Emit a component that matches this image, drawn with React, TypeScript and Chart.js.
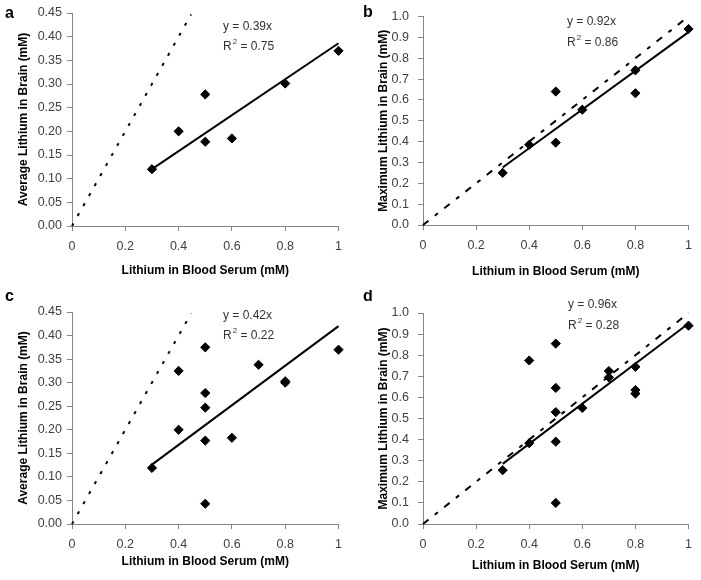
import React, { useEffect, useRef } from 'react';
import { Chart, registerables } from 'chart.js';
Chart.register(...registerables);

const FONT = "'Liberation Sans', Arial, Helvetica, sans-serif";

// ---- tick labels ----
const serumTicks = [0, 0.2, 0.4, 0.6, 0.8, 1];
const avgTicks = [0, 0.05, 0.1, 0.15, 0.2, 0.25, 0.3, 0.35, 0.4, 0.45];
const maxTicks = [0, 0.1, 0.2, 0.3, 0.4, 0.5, 0.6, 0.7, 0.8, 0.9, 1.0];

// ---- panel a: average brain Li vs serum Li ----
const serumA = [0.3, 0.4, 0.5, 0.5, 0.6, 0.8, 1.0];
const brainA = [0.12, 0.2, 0.278, 0.178, 0.185, 0.301, 0.37];
// ---- panel b: maximum brain Li vs serum Li ----
const serumB = [0.3, 0.4, 0.5, 0.5, 0.6, 0.8, 0.8, 1.0];
const brainB = [0.25, 0.385, 0.64, 0.395, 0.553, 0.742, 0.632, 0.94];
// ---- panel c ----
const serumC = [0.3, 0.4, 0.4, 0.5, 0.5, 0.5, 0.5, 0.5, 0.6, 0.7, 0.8, 0.8, 1.0];
const brainC = [0.119, 0.325, 0.2, 0.375, 0.278, 0.247, 0.177, 0.043, 0.183, 0.338, 0.3, 0.303, 0.37];
// ---- panel d ----
const serumD = [0.3, 0.4, 0.4, 0.5, 0.5, 0.5, 0.5, 0.5, 0.6, 0.7, 0.7, 0.8, 0.8, 0.8, 1.0];
const brainD = [0.255, 0.775, 0.383, 0.855, 0.645, 0.53, 0.39, 0.1, 0.55, 0.725, 0.695, 0.745, 0.635, 0.618, 0.94];

// ---- trend lines (endpoints) ----
const trendX = [0.3, 1.0];
const trendA = [0.12, 0.386];
const trendB = [0.276, 0.925];
const trendC = [0.126, 0.42];
const trendD = [0.285, 0.95];

// ---- unity (y = x) reference lines ----
const unityAvg = [0, 0.447];
const unityMax = [0, 1.0];

// ---- equation labels ----
const eqA = 'y = 0.39x'; const r2A = '0.75';
const eqB = 'y = 0.92x'; const r2B = '0.86';
const eqC = 'y = 0.42x'; const r2C = '0.22';
const eqD = 'y = 0.96x'; const r2D = '0.28';

const xTitle = 'Lithium in Blood Serum (mM)';
const yTitleAvg = 'Average Lithium in Brain (mM)';
const yTitleMax = 'Maximum Lithium in Brain (mM)';

type Spec = {
  letter: string; left: number; top: number;
  xs: number[]; ys: number[]; trend: number[]; unity: number[]; dash: number[];
  yTicks: number[]; yMax: number; yDec: number; yTitle: string; eq: string; r2: string;
  padTop: number; padRight: number; yAxisW: number; yTitlePad: number; yTickPad: number;
  xAxisH: number; xTitlePad: number; letterX: number; letterY: number; eqX: number; eqY: number; r2Y: number;
};

const dotted = [3, 8.5];
const dashDot = [7, 8, 4, 8];

const specs: Spec[] = [
  { letter: 'a', left: 0, top: 0, xs: serumA, ys: brainA, trend: trendA, unity: unityAvg, dash: dotted,
    yTicks: avgTicks, yMax: 0.45, yDec: 2, yTitle: yTitleAvg, eq: eqA, r2: r2A,
    padTop: 13, padRight: 11, yAxisW: 72, yTitlePad: 16, yTickPad: 5, xAxisH: 64, xTitlePad: 12,
    letterX: 5, letterY: 18, eqX: 223, eqY: 27, r2Y: 47 },
  { letter: 'b', left: 350, top: 0, xs: serumB, ys: brainB, trend: trendB, unity: unityMax, dash: dashDot,
    yTicks: maxTicks, yMax: 1.0, yDec: 1, yTitle: yTitleMax, eq: eqB, r2: r2B,
    padTop: 14, padRight: 11, yAxisW: 73, yTitlePad: 26, yTickPad: 9, xAxisH: 65, xTitlePad: 11,
    letterX: 13, letterY: 17, eqX: 217, eqY: 22, r2Y: 43 },
  { letter: 'c', left: 0, top: 290, xs: serumC, ys: brainC, trend: trendC, unity: unityAvg, dash: dotted,
    yTicks: avgTicks, yMax: 0.45, yDec: 2, yTitle: yTitleAvg, eq: eqC, r2: r2C,
    padTop: 22, padRight: 11, yAxisW: 72, yTitlePad: 16, yTickPad: 5, xAxisH: 56, xTitlePad: 11,
    letterX: 5, letterY: 11, eqX: 223, eqY: 26, r2Y: 46 },
  { letter: 'd', left: 350, top: 290, xs: serumD, ys: brainD, trend: trendD, unity: unityMax, dash: dashDot,
    yTicks: maxTicks, yMax: 1.0, yDec: 1, yTitle: yTitleMax, eq: eqD, r2: r2D,
    padTop: 23, padRight: 10, yAxisW: 73, yTitlePad: 26, yTickPad: 9, xAxisH: 56, xTitlePad: 7,
    letterX: 13, letterY: 11, eqX: 218, eqY: 15, r2Y: 36 },
];

const AXIS = '#868686';
const TICK = '#404040';
const TICK_SIZE = 12.5;

function makeChart(canvas: HTMLCanvasElement, s: Spec) {
  const textPlugin = {
    id: 'panelText',
    afterDraw(chart: any) {
      const ctx = chart.ctx as CanvasRenderingContext2D;
      ctx.save();
      ctx.fillStyle = '#000';
      ctx.font = `bold 16px ${FONT}`;
      ctx.textBaseline = 'alphabetic';
      ctx.textAlign = 'left';
      ctx.fillText(s.letter, s.letterX, s.letterY);
      ctx.fillStyle = '#333';
      ctx.font = `12px ${FONT}`;
      ctx.textBaseline = 'middle';
      ctx.fillText(s.eq, s.eqX, s.eqY);
      ctx.fillText('R', s.eqX, s.r2Y);
      let w = ctx.measureText('R').width + 1;
      ctx.font = `8px ${FONT}`;
      ctx.fillText('2', s.eqX + w, s.r2Y - 5);
      w += ctx.measureText('2').width;
      ctx.font = `12px ${FONT}`;
      ctx.fillText(' = ' + s.r2, s.eqX + w, s.r2Y);
      ctx.restore();
    },
  };

  const pts = s.xs.map((x, i) => ({ x, y: s.ys[i] }));
  const trendPts = trendX.map((x, i) => ({ x, y: s.trend[i] }));
  const unityPts = s.unity.map((v) => ({ x: v, y: v }));

  return new Chart(canvas, {
    type: 'scatter',
    data: {
      datasets: [
        { data: unityPts, showLine: true, borderColor: '#000', borderWidth: 2, borderDash: s.dash,
          borderCapStyle: 'butt', pointRadius: 0, pointHoverRadius: 0, clip: false } as any,
        { data: trendPts, showLine: true, borderColor: '#000', borderWidth: 2,
          pointRadius: 0, pointHoverRadius: 0, clip: false } as any,
        { data: pts, showLine: false, pointStyle: 'rectRot', pointRadius: 4.6, pointHoverRadius: 4.6,
          pointBackgroundColor: '#000', pointBorderColor: '#000', pointBorderWidth: 1, clip: false } as any,
      ],
    },
    options: {
      responsive: false,
      animation: false,
      events: [],
      layout: { padding: { left: 0, top: s.padTop, right: s.padRight, bottom: 0 } },
      plugins: { legend: { display: false }, tooltip: { enabled: false } },
      scales: {
        x: {
          type: 'linear', min: 0, max: 1,
          afterBuildTicks: (sc: any) => { sc.ticks = serumTicks.map((v) => ({ value: v })); },
          afterFit: (sc: any) => { sc.height = s.xAxisH; },
          ticks: { callback: (v: any) => String(v), color: TICK, font: { family: FONT, size: TICK_SIZE },
            padding: 8, maxRotation: 0, autoSkip: false },
          grid: { display: true, drawOnChartArea: false, drawTicks: true, tickLength: 5, color: AXIS },
          border: { display: true, color: AXIS, width: 1 },
          title: { display: true, text: xTitle, color: '#000', font: { family: FONT, size: 12, weight: 'bold' },
            padding: { top: 4, bottom: s.xTitlePad } },
        },
        y: {
          type: 'linear', min: 0, max: s.yMax,
          afterBuildTicks: (sc: any) => { sc.ticks = s.yTicks.map((v) => ({ value: v })); },
          afterFit: (sc: any) => { sc.width = s.yAxisW; },
          ticks: { callback: (v: any) => Number(v).toFixed(s.yDec), color: TICK, font: { family: FONT, size: TICK_SIZE },
            padding: s.yTickPad, autoSkip: false },
          grid: { display: true, drawOnChartArea: false, drawTicks: true, tickLength: 5, color: AXIS },
          border: { display: true, color: AXIS, width: 1 },
          title: { display: true, text: s.yTitle, color: '#000', font: { family: FONT, size: 12, weight: 'bold' },
            padding: { top: s.yTitlePad, bottom: 4 } },
        },
      },
    } as any,
    plugins: [textPlugin],
  });
}

function Panel({ spec }: { spec: Spec }) {
  const ref = useRef<HTMLCanvasElement>(null);
  useEffect(() => {
    if (!ref.current) return;
    const chart = makeChart(ref.current, spec);
    return () => chart.destroy();
  }, [spec]);
  return (
    <canvas ref={ref} width={350} height={290}
      style={{ position: 'absolute', left: spec.left, top: spec.top, width: 350, height: 290 }} />
  );
}

export default function App() {
  return (
    <div style={{ position: 'absolute', left: 0, top: 0, width: 701, height: 580, background: '#fff' }}>
      {specs.map((s) => <Panel key={s.letter} spec={s} />)}
    </div>
  );
}
